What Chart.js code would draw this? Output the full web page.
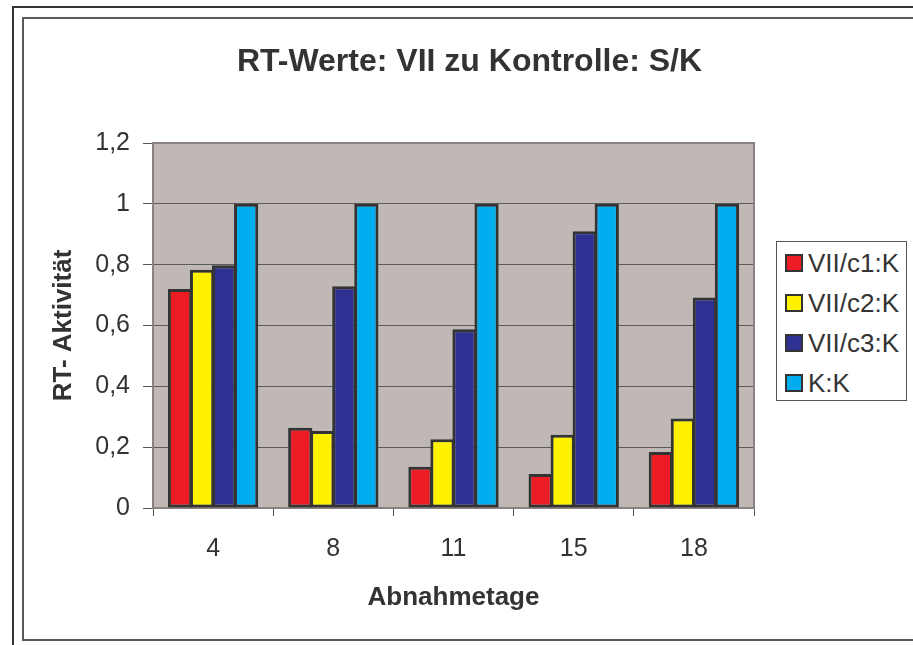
<!DOCTYPE html>
<html>
<head>
<meta charset="utf-8">
<script src="https://cdn.jsdelivr.net/npm/chart.js@4.4.1/dist/chart.umd.min.js"></script>
<style>
  html, body { margin:0; padding:0; background:#fff; }
  #wrap { position:relative; width:913px; height:645px; overflow:hidden; font-family:"Liberation Sans", Arial, sans-serif; color:#333; }
  #c { position:absolute; left:0; top:0; }
  .ln { position:absolute; }
  #title { position:absolute; left:0; width:939px; top:40px; text-align:center; font-weight:bold; font-size:32px; line-height:40px; color:#333; white-space:nowrap; }
  #legend { position:absolute; left:776px; top:241px; width:131px; height:160px; border:1px solid #555; background:#fff; box-sizing:border-box; }
  .item { position:absolute; left:8px; height:20px; font-size:26px; line-height:20px; white-space:nowrap; color:#333; }
  .sw { position:absolute; left:0; top:1px; width:18px; height:18px; box-sizing:border-box; border:2px solid #333; }
  .lt { position:absolute; left:23px; top:0; }
</style>
</head>
<body>
<div id="wrap">
  <div class="ln" style="left:12px;top:6px;width:901px;height:2px;background:#333"></div>
  <div class="ln" style="left:12px;top:6px;width:2px;height:639px;background:#333"></div>
  <div class="ln" style="left:22px;top:17px;width:891px;height:2px;background:#5a5a5a"></div>
  <div class="ln" style="left:22px;top:17px;width:2px;height:624px;background:#5a5a5a"></div>
  <div class="ln" style="left:22px;top:639px;width:891px;height:2px;background:#5a5a5a"></div>
  <canvas id="c" width="913" height="645"></canvas>
  <div id="title">RT-Werte: VII zu Kontrolle: S/K</div>
  <div id="legend"></div>
</div>
<script>
const categories = ["4", "8", "11", "15", "18"];
const seriesNames = ["VII/c1:K", "VII/c2:K", "VII/c3:K", "K:K"];
const c1Values = [0.72, 0.264, 0.136, 0.112, 0.184];
const c2Values = [0.783, 0.253, 0.226, 0.241, 0.294];
const c3Values = [0.798, 0.729, 0.588, 0.91, 0.692];
const kValues = [1, 1, 1, 1, 1];
const seriesColors = ["#ED1C24", "#FFF200", "#2E3192", "#00AEEF"];
const yTicks = [0, 0.2, 0.4, 0.6, 0.8, 1, 1.2];

const allValues = [c1Values, c2Values, c3Values, kValues];

const plotBg = {
  id: 'plotBg',
  beforeDraw(chart) {
    const {ctx, chartArea: {left, top, right, bottom}} = chart;
    ctx.save();
    ctx.fillStyle = '#C0B8B5';
    ctx.fillRect(left, top, right - left, bottom - top);
    ctx.restore();
  },
  beforeDatasetsDraw(chart) {
    const {ctx, chartArea: {left, top, right, bottom}} = chart;
    ctx.save();
    ctx.strokeStyle = '#8a8282';
    ctx.lineWidth = 2;
    ctx.strokeRect(left, top, right - left, bottom - top);
    ctx.restore();
  }
};

const datasets = seriesNames.map((name, i) => ({
  label: name,
  data: allValues[i],
  backgroundColor: seriesColors[i],
  borderColor: '#333',
  borderWidth: 3,
  borderSkipped: false,
  categoryPercentage: 0.7333,
  barPercentage: 1.1
}));

new Chart(document.getElementById('c'), {
  type: 'bar',
  data: { labels: categories, datasets },
  plugins: [plotBg],
  options: {
    responsive: false,
    animation: false,
    devicePixelRatio: 1,
    layout: { padding: { top: 143, right: 159, bottom: 0, left: 0 } },
    plugins: { legend: { display: false }, title: { display: false }, tooltip: { enabled: false } },
    scales: {
      x: {
        grid: { display: true, drawOnChartArea: false, offset: true, tickLength: 8, color: '#555', lineWidth: 1 },
        border: { display: true, color: '#444', width: 2 },
        ticks: { font: { family: '"Liberation Sans", Arial, sans-serif', size: 25 }, color: '#333', padding: 18 },
        title: { display: true, text: 'Abnahmetage', color: '#333',
                 font: { family: '"Liberation Sans", Arial, sans-serif', size: 26, weight: 'bold' },
                 padding: { top: 0, bottom: 32 } },
        afterFit(s) { s.height = 137; }
      },
      y: {
        min: 0, max: 1.2,
        afterBuildTicks(s) { s.ticks = yTicks.map(v => ({ value: v })); },
        ticks: {
          font: { family: '"Liberation Sans", Arial, sans-serif', size: 25 }, color: '#333', padding: 13,
          callback: v => String(Math.round(v * 10) / 10).replace('.', ',')
        },
        grid: { color: '#5a5a5a', lineWidth: 1, tickLength: 10, tickColor: '#555' },
        border: { display: true, color: '#8a8282', width: 2 },
        title: { display: true, text: 'RT- Aktivität', color: '#333',
                 font: { family: '"Liberation Sans", Arial, sans-serif', size: 26, weight: 'bold' },
                 padding: { top: 48, bottom: 0 } },
        afterFit(s) { s.width = 153; }
      }
    }
  }
});

const legend = document.getElementById('legend');
seriesNames.forEach((name, i) => {
  const it = document.createElement('div');
  it.className = 'item';
  it.style.top = (11 + i * 40) + 'px';
  const sw = document.createElement('div');
  sw.className = 'sw';
  sw.style.background = seriesColors[i];
  const t = document.createElement('span');
  t.className = 'lt';
  t.textContent = name;
  it.appendChild(sw);
  it.appendChild(t);
  legend.appendChild(it);
});
</script>
</body>
</html>
